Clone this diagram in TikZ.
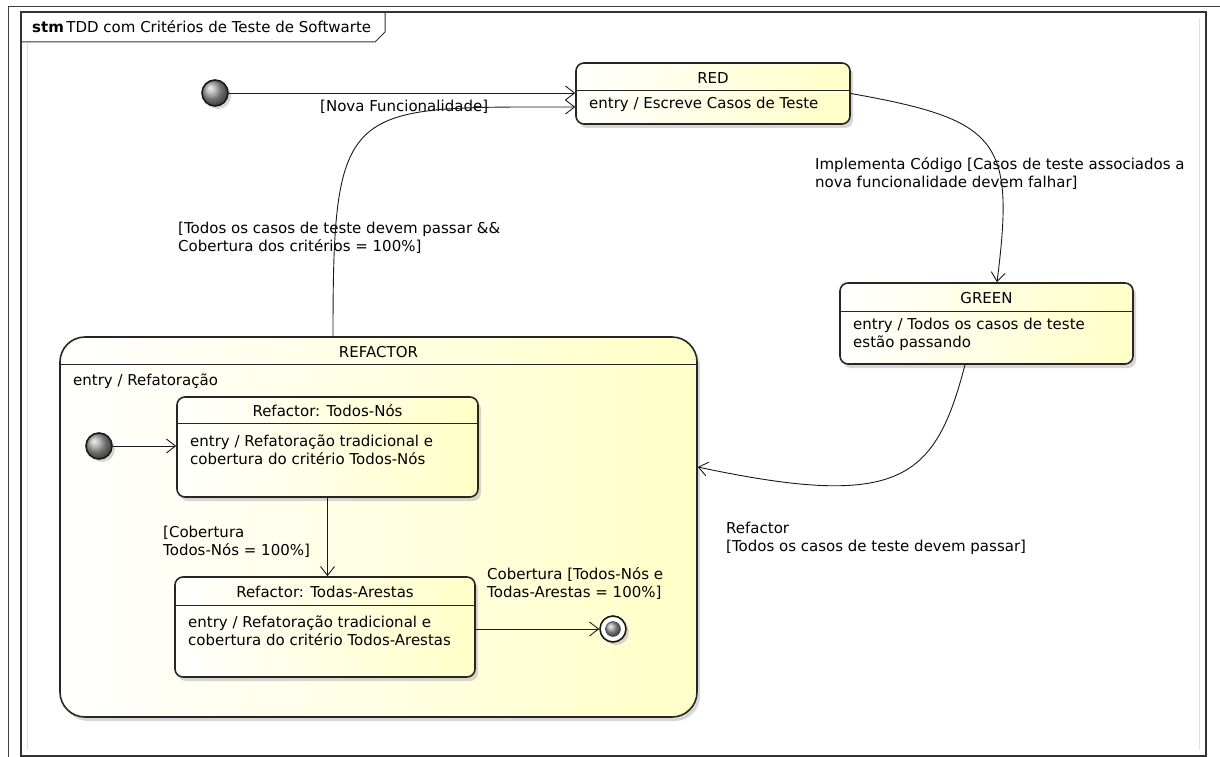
\documentclass[tikz,border=0pt]{standalone}
\usepackage{fontspec}
\setmainfont{DejaVu Sans}
\usetikzlibrary{positioning}
\usetikzlibrary{calc}
\usetikzlibrary{arrows.meta,shadows}

\tikzset{
  txt/.style={inner sep=0pt, align=left, font=\fontsize{15}{18}\selectfont},
  state/.style={draw=black!85, line width=1.6pt, rounded corners=8pt,
    left color=white, right color=yellow!22,
    drop shadow={shadow xshift=3pt, shadow yshift=-4pt, fill=black!35, opacity=0.45}},
  divider/.style={draw=black!85, line width=0.8pt},
  initial/.style={circle, draw=black!90, line width=1.6pt, minimum size=26pt, inner sep=0pt,
    ball color=gray!75,
    drop shadow={shadow xshift=3pt, shadow yshift=-3pt, fill=black!35, opacity=0.45}},
  trans/.style={draw=black!90, line width=0.9pt, -{Straight Barb[length=9pt,width=14pt,line width=0.9pt]}}
}

\begin{document}
\begin{tikzpicture}[x=1pt,y=-1pt]
\useasboundingbox (0,0) rectangle (1220,757);

% frame
\draw[black!75, line width=0.9pt] (8,757) -- (8,6) -- (1220,6);
\draw[black!80, line width=1.2pt] (21,12) rectangle (1206,756);
\draw[black!12, line width=0.8pt] (27,42) -- (27,750);
\draw[black!12, line width=0.8pt] (1199,18) -- (1199,750);
\draw[black!80, line width=1pt] (21,42) -- (375,42) -- (385,32) -- (385,12);
\node[txt, anchor=west](frametitle) at (32,27){\textbf{stm}\,TDD com Critérios de Teste de Softwarte};

% states
\node[state, minimum width=274pt, minimum height=61pt](red) at (713,93.5){};
\draw[divider] ([yshift=-28pt]red.north west) -- ([yshift=-28pt]red.north east);
\node[txt](redtitle) at (713,78){RED};
\node[txt, anchor=west](redentry) at (589,104){entry / Escreve Casos de Teste};

\node[state, minimum width=293pt, minimum height=81pt](green) at (986.5,323.5){};
\draw[divider] ([yshift=-29pt]green.north west) -- ([yshift=-29pt]green.north east);
\node[txt](greentitle) at (986.5,298){GREEN};
\node[txt, anchor=west](greenentry) at (853,334){entry / Todos os casos de teste\\estão passando};

\node[state, rounded corners=25pt, minimum width=637pt, minimum height=380pt](refactor) at (378.5,527){};
\draw[divider] ([yshift=-28pt]refactor.north west) -- ([yshift=-28pt]refactor.north east);
\node[txt](refactortitle) at (378.5,352){REFACTOR};
\node[txt, anchor=west](refactorentry) at (73,381){entry / Refatoração};

\node[state, minimum width=301pt, minimum height=100pt](nos) at (327.5,447){};
\draw[divider] ([yshift=-27pt]nos.north west) -- ([yshift=-27pt]nos.north east);
\node[txt](nostitle) at (327.5,411){Refactor: Todos-Nós};
\node[txt, anchor=west](nosentry) at (190,449.5){entry / Refatoração tradicional e\\cobertura do critério Todos-Nós};

\node[state, minimum width=300pt, minimum height=100pt](arestas) at (325,627){};
\draw[divider] ([yshift=-29pt]arestas.north west) -- ([yshift=-29pt]arestas.north east);
\node[txt](arestastitle) at (325,592){Refactor: Todas-Arestas};
\node[txt, anchor=west](arestasentry) at (188,630.5){entry / Refatoração tradicional e\\cobertura do critério Todos-Arestas};

% pseudo states
\node[initial](start) at (215,93){};
\node[initial](startrefactor) at (99,446){};
\node[circle, draw=black!90, line width=1.6pt, minimum size=26pt, fill=white,
  drop shadow={shadow xshift=3pt, shadow yshift=-3pt, fill=black!35, opacity=0.45}](final) at (613,629){};
\node[circle, minimum size=15pt, inner sep=0pt, draw=black!80, ball color=gray!75](finalcore) at (613,629){};

% labels
\node[txt, anchor=west](lblnova) at (320,107){[Nova Funcionalidade]};
\node[txt, anchor=west](lblfim) at (178,237.5){[Todos os casos de teste devem passar \&\&\\Cobertura dos critérios = 100\%]};
\node[txt, anchor=west](lblimpl) at (815,173.5){Implementa Código [Casos de teste associados a\\nova funcionalidade devem falhar]};
\node[txt, anchor=west](lblrefactor) at (726,538){Refactor\\{[}Todos os casos de teste devem passar]};
\node[txt, anchor=west](lblnos) at (163,541.5){[Cobertura\\Todos-Nós = 100\%]};
\node[txt, anchor=west](lblarestas) at (487,583){Cobertura [Todos-Nós e\\Todas-Arestas = 100\%]};

% transitions
\draw[trans] (start) -- (red.west |- start);
\draw[trans] (startrefactor) -- (nos.west |- startrefactor);
\draw[trans] (nos.south) -- (nos.south |- arestas.north);
\draw[trans] (arestas.east |- final) -- (final);
\draw[trans] ([xshift=-45.5pt]refactor.north) .. controls (333,100) and (345,107) .. ([yshift=-13.5pt]red.west);
\draw[trans] (red.east) .. controls (1000,120) and (1015,140) .. ([xshift=10.5pt]green.north);
\draw[trans] ([xshift=-21.5pt]green.south) .. controls (935,480) and (900,510) .. ([yshift=60pt]refactor.east);
\end{tikzpicture}
\end{document}
